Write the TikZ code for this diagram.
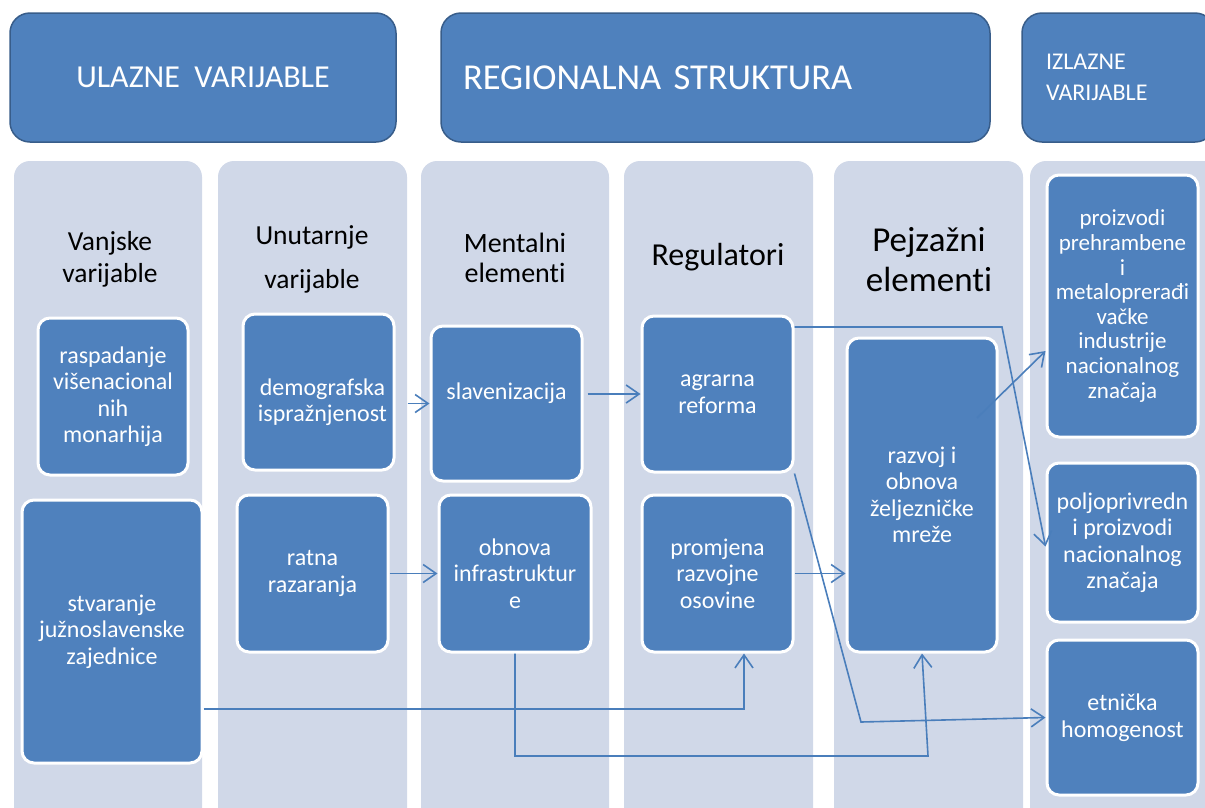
\documentclass[tikz,border=0pt]{standalone}
\usepackage{fontspec}
\setmainfont[Ligatures=NoCommon]{Carlito}
\usetikzlibrary{arrows.meta,calc}
\definecolor{boxblue}{HTML}{4F81BD}
\definecolor{colbg}{HTML}{D0D8E8}
\definecolor{hdrborder}{HTML}{385D8A}
\definecolor{linkblue}{HTML}{4A7EBB}
\begin{document}
\begin{tikzpicture}[x=1pt,y=-1pt,
 hdr/.style={draw=hdrborder, line width=1.5pt, fill=boxblue, rounded corners=20pt, text=white, inner ysep=0pt},
 col/.style={fill=colbg, rounded corners=16pt, inner sep=0pt},
 ibox/.style={draw=white, line width=3pt, fill=boxblue, rounded corners=12pt, text=white, align=center, inner sep=0pt, font=\fontsize{24}{26.5}\selectfont},
 itext/.style={text=white, align=center, inner sep=0pt, font=\fontsize{24}{26.5}\selectfont},
 chead/.style={align=center, inner sep=0pt, text=black},
 conn/.style={draw=linkblue, line width=1.6pt, -{Straight Barb[length=13pt,width=18pt,line width=1.6pt]}}]
\useasboundingbox (0,0) rectangle (1205,807);
\clip (0,0) rectangle (1205,807);
\fill[white] (0,0) rectangle (1205,807);

% header boxes
\node[hdr, minimum width=386pt, minimum height=129pt, font=\fontsize{32}{38}\selectfont] (h1) at (203,77.5) {ULAZNE~~VARIJABLE};
\node[hdr, minimum width=549pt, minimum height=129pt, inner xsep=22pt, text width=505pt, align=left, font=\fontsize{36.5}{40}\selectfont] (h2) at (715.5,77.5) {REGIONALNA STRUKTURA};
\node[hdr, minimum width=193pt, minimum height=129pt, inner xsep=24pt, text width=145pt, align=left, font=\fontsize{24}{31}\selectfont] (h3) at (1118.5,77.5) {IZLAZNE\\VARIJABLE};

% columns
\node[col, minimum width=188pt, minimum height=664pt] (c1) at (108,493) {};
\node[col, minimum width=189pt, minimum height=664pt] (c2) at (312.5,493) {};
\node[col, minimum width=188pt, minimum height=664pt] (c3) at (515,493) {};
\node[col, minimum width=189pt, minimum height=664pt] (c4) at (718.5,493) {};
\node[col, minimum width=189pt, minimum height=664pt] (c5) at (928.5,493) {};
\node[col, minimum width=190pt, minimum height=664pt] (c6) at (1125,493) {};

% column headings
\node[chead, font=\fontsize{27.5}{32}\selectfont] (t1) at (110,259) {Vanjske\\varijable};
\node[chead, font=\fontsize{27.5}{44}\selectfont] (t2) at (312,259) {Unutarnje\\varijable};
\node[chead, font=\fontsize{28}{30}\selectfont] (t3) at (515,258) {Mentalni\\elementi};
\node[chead, font=\fontsize{32}{36}\selectfont] (t4) at (718,257) {Regulatori};
\node[chead, font=\fontsize{35}{40}\selectfont] (t5) at (929,260) {Pejzažni\\elementi};

% inner boxes
\node[ibox, minimum width=150pt, minimum height=157pt] (rasp) at (113,396.5) {raspadanje\\višenacional\\nih\\monarhija};
\node[ibox, minimum width=180pt, minimum height=263pt] (stv) at (112,631.5) {stvaranje\\južnoslavenske\\zajednice};
\node[ibox, minimum width=151pt, minimum height=156pt, label={[itext, yshift=-10pt, xshift=4pt]center:demografska\\ispražnjenost}] (demo) at (318.5,392) {};
\node[ibox, minimum width=151pt, minimum height=157pt] (ratna) at (312.5,573.5) {ratna\\razaranja};
\node[ibox, minimum width=151pt, minimum height=155pt, label={[itext, yshift=10pt]center:slavenizacija}] (slav) at (506.5,403.5) {};
\node[ibox, minimum width=152pt, minimum height=157pt] (infra) at (515,573.5) {obnova\\infrastruktur\\e};
\node[ibox, minimum width=151pt, minimum height=156pt] (agr) at (717.5,394) {agrarna\\reforma};
\node[ibox, minimum width=151pt, minimum height=157pt] (prom) at (717.5,573.5) {promjena\\razvojne\\osovine};
\node[ibox, minimum width=150pt, minimum height=314pt] (razv) at (922,495) {razvoj i\\obnova\\željezničke\\mreže};
\node[ibox, minimum width=151pt, minimum height=262pt, font=\fontsize{23}{24.6}\selectfont] (proiz) at (1122.5,306) {proizvodi\\prehrambene\\i\\metaloprerađi\\vačke\\industrije\\nacionalnog\\značaja};
\node[ibox, minimum width=151pt, minimum height=159pt] (poljo) at (1122.5,542.5) {poljoprivredn\\i proizvodi\\nacionalnog\\značaja};
\node[ibox, minimum width=151pt, minimum height=155pt] (etn) at (1122.5,717.5) {etnička\\homogenost};

% helper points
\coordinate (k5) at (744,709);
\coordinate (k6) at (928,756);
\coordinate (k7) at (1002,327);
\coordinate (k8) at (861,722);
\coordinate (k9) at (977,418);

% connectors
\draw[conn, shorten <=12pt] (demo.east |- slav.west) -- (slav.west);
\draw[conn, shorten <=4pt] (slav.east |- agr.west) -- (agr.west);
\draw[conn] (ratna) -- (infra);
\draw[conn] (prom) -- (razv.west |- prom);
\draw[conn] (stv.east |- k5) -- (k5) -- (prom.south -| k5);
\draw[conn] (infra.south) |- (k6) -- (razv.south);
\draw[conn] (agr.east |- k7) -- (k7) -- ($(poljo.west)+(0,4)$);
\draw[conn] (agr.south east) -- (k8) -- (etn.west);
\draw[conn] (k9) -- ($(proiz.west)+(0,45)$);
\end{tikzpicture}
\end{document}
